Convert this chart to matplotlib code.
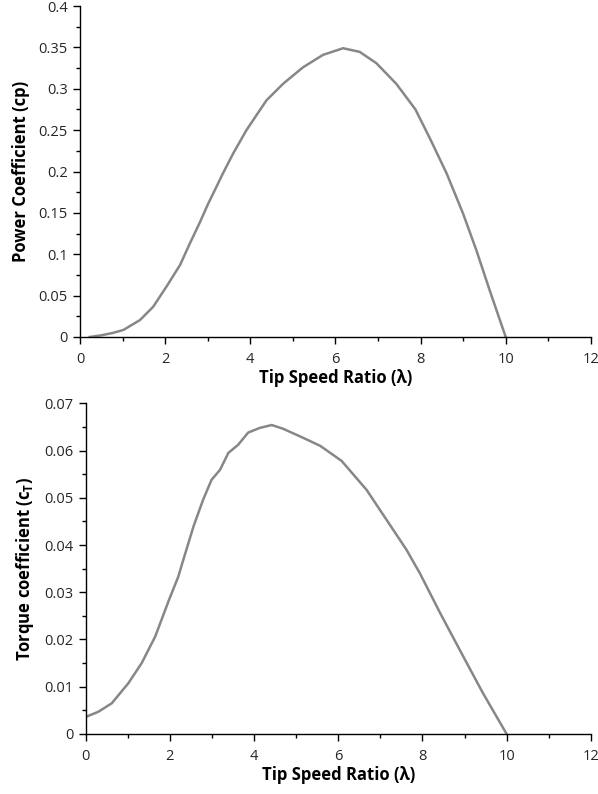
import matplotlib
matplotlib.use("Agg")
import matplotlib.pyplot as plt
from matplotlib.ticker import MultipleLocator

plt.rcParams['font.family'] = ['Open Sans', 'DejaVu Sans']

tsr_cp = [0.23, 0.5, 0.78, 1.02, 1.41, 1.72, 2.03, 2.35, 2.58, 2.82, 3.01, 3.21, 3.36, 3.6, 3.91,
          4.38, 4.77, 5.24, 5.71, 6.18, 6.57, 6.96, 7.43, 7.88, 8.22, 8.61, 9.0, 9.31, 9.62, 10.0]
cp = [0.0, 0.002, 0.005, 0.0085, 0.0205, 0.0366, 0.0608, 0.087, 0.113, 0.139, 0.161, 0.182, 0.198, 0.222, 0.250,
      0.286, 0.306, 0.326, 0.341, 0.349, 0.3446, 0.331, 0.306, 0.275, 0.240, 0.198, 0.149, 0.105, 0.057, 0.0]

tsr_ct = [0.0, 0.3, 0.62, 1.01, 1.33, 1.65, 1.98, 2.2, 2.32, 2.44, 2.56, 2.79, 2.99, 3.19, 3.39, 3.62, 3.86,
          4.14, 4.42, 4.69, 5.09, 5.57, 6.08, 6.67, 7.15, 7.62, 7.94, 8.42, 8.97, 9.44, 10.0]
ct = [0.0036, 0.0047, 0.0065, 0.0107, 0.015, 0.0206, 0.0284, 0.0333, 0.0369, 0.0404, 0.0439, 0.0496, 0.0538, 0.0559, 0.0595, 0.0612, 0.0638,
      0.0648, 0.0654, 0.0646, 0.0630, 0.0610, 0.0578, 0.0517, 0.0453, 0.039, 0.034, 0.0256, 0.0164, 0.0086, 0.0]

x_ticks = [0, 2, 4, 6, 8, 10, 12]
cp_ticks = [0, 0.05, 0.1, 0.15, 0.2, 0.25, 0.3, 0.35, 0.4]
cp_labels = ['0', '0.05', '0.1', '0.15', '0.2', '0.25', '0.3', '0.35', '0.4']
ct_ticks = [0, 0.01, 0.02, 0.03, 0.04, 0.05, 0.06, 0.07]
ct_labels = ['0', '0.01', '0.02', '0.03', '0.04', '0.05', '0.06', '0.07']

fig = plt.figure(figsize=(5.98, 7.94), dpi=100)
ax1 = fig.add_axes([0.1338, 0.5756, 0.988 - 0.1338, 0.9924 - 0.5756])
ax2 = fig.add_axes([0.1433, 0.0756, 0.988 - 0.1433, 0.4921 - 0.0756])

line_color = '#878787'
txt = '#262626'

def style(ax, yt, yl, ymax, yminor):
    ax.set_xlim(0, 12)
    ax.set_ylim(0, ymax)
    ax.set_xticks(x_ticks)
    ax.set_xticklabels([str(v) for v in x_ticks])
    ax.xaxis.set_minor_locator(MultipleLocator(1))
    ax.set_yticks(yt)
    ax.set_yticklabels(yl)
    ax.yaxis.set_minor_locator(MultipleLocator(yminor))
    for s in ['top', 'right']:
        ax.spines[s].set_visible(False)
    for s in ['left', 'bottom']:
        ax.spines[s].set_color('#000000')
        ax.spines[s].set_linewidth(1.0)
    ax.tick_params(which='major', direction='out', length=5, width=1, labelsize=10.5, colors='#000000', labelcolor=txt)
    ax.tick_params(which='minor', direction='out', length=3, width=1, colors='#000000')
    ax.tick_params(axis='x', which='major', pad=6)
    ax.tick_params(axis='y', which='major', pad=4)

ax1.plot(tsr_cp, cp, color=line_color, lw=1.8, solid_joinstyle='round')
style(ax1, cp_ticks, cp_labels, 0.4, 0.025)
ax1.set_xlabel('Tip Speed Ratio (λ)', fontsize=12, fontweight='bold', color='#000000', labelpad=1)
ax1.set_ylabel('Power Coefficient (cp)', fontsize=12, fontweight='bold', color='#000000', labelpad=6)

ax2.plot(tsr_ct, ct, color=line_color, lw=1.8, solid_joinstyle='round')
style(ax2, ct_ticks, ct_labels, 0.07, 0.005)
ax2.set_xlabel('Tip Speed Ratio (λ)', fontsize=12, fontweight='bold', color='#000000', labelpad=1)
ax2.set_ylabel('Torque coefficient (c$_\\mathregular{T}$)', fontsize=12, fontweight='bold', color='#000000', labelpad=6)

fig.savefig('out.png', dpi=100)
